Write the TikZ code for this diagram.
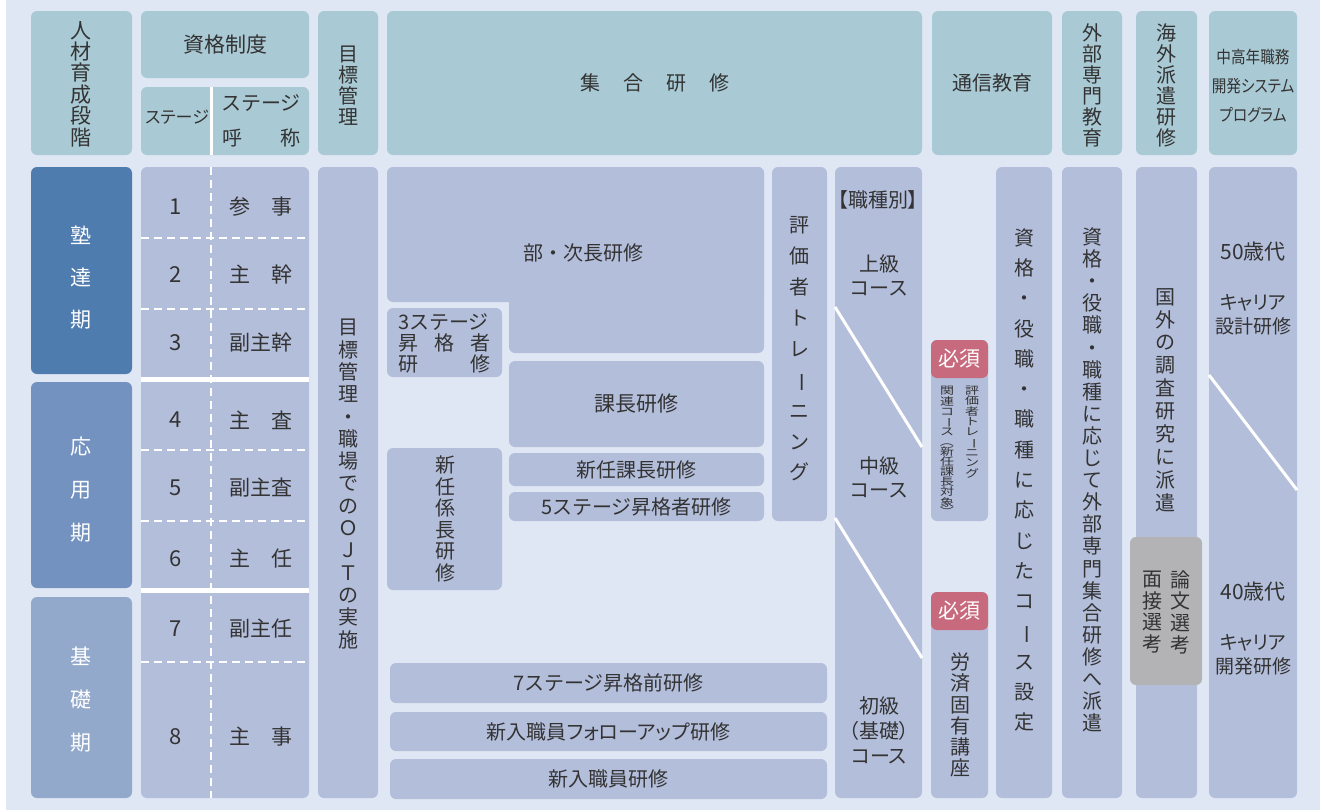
\documentclass[tikz,border=0pt]{standalone}
\usepackage{fontspec}
\usepackage{graphicx}
\setmainfont{Noto Sans CJK JP}
\newfontfamily\jpp[RawFeature=+palt]{Noto Sans CJK JP}
\definecolor{bgc}{HTML}{E0E7F4}
\definecolor{hdrc}{HTML}{A9C9D4}
\definecolor{bxc}{HTML}{B3BEDB}
\definecolor{st1}{HTML}{4F7CAF}
\definecolor{st2}{HTML}{7392BF}
\definecolor{st3}{HTML}{93A9CC}
\definecolor{redc}{HTML}{C86A7E}
\definecolor{grc}{HTML}{B3B3B5}
\definecolor{txt}{HTML}{333333}
\newcommand\fs[2]{\fontsize{#1}{#2}\selectfont}
\newcommand\vl{\rotatebox[origin=c]{-90}{ー}}
\newcommand\vp[1]{\rotatebox[origin=c]{-90}{#1}}
\newcommand\sq[1]{\scalebox{1}[0.75]{#1}}
\newcommand\hc[1]{\scalebox{0.86}[1]{#1}}
\newcommand\rb[7]{\node[#2,minimum width={#5pt-#3pt},minimum height={#6pt-#4pt}] (#1) at ({(#3+#5)/2},{(#4+#6)/2}) {#7};}
\setlength\lineskiplimit{-50pt}
\setlength\lineskip{0pt}
\begin{document}
\begin{tikzpicture}[x=1pt,y=-1pt,
  hdr/.style={fill=hdrc,rounded corners=6pt,inner sep=0pt,text=txt,align=center},
  bx/.style={fill=bxc,rounded corners=6pt,inner sep=0pt,text=txt,align=center},
  stgbox/.style={rounded corners=6pt,inner sep=0pt,text=white,align=center},
  redbox/.style={fill=redc,rounded corners=6pt,inner sep=0pt,text=white,align=center,font=\fs{21}{24}},
  graybox/.style={fill=grc,rounded corners=6pt,inner sep=0pt},
  tx/.style={text=txt,inner sep=0pt,align=center},
  wt/.style={text=white,inner sep=0pt,align=center},
  dashw/.style={white,line width=2.5pt,dash pattern=on 8pt off 5pt},
  solidw/.style={white,line width=3pt},
  sepw/.style={white,line width=5pt},
  diag/.style={white,line width=3pt}]
\useasboundingbox (0,0) rectangle (1322,811);
\fill[white] (0,0) rectangle (1322,811);
\fill[bgc] (6,0) rectangle (1320,810);

% ---------- header row ----------
\rb{h1}{hdr}{31}{11}{132}{155}{}
\node[tx,font=\fs{21}{21.4}] (h1t) at (81,84) {人\\材\\育\\成\\段\\階};
\rb{h2}{hdr}{141}{11}{309}{78}{\fs{21}{24}資格制度}
\rb{h3}{hdr}{141}{87}{309}{155}{}
\coordinate (h3a) at (211,87);
\coordinate (h3b) at (211,155);
\draw[solidw] (h3a) -- (h3b);
\node[tx,font=\fs{17}{20}\jpp] (h3s) at (177,117) {ステージ};
\node[tx,font=\fs{20}{24}] (h3n) at (261,103) {ステージ};
\node[tx,font=\fs{20}{24}] (h3c) at (261,138) {\makebox[78pt][s]{呼\hfill 称}};
\rb{h4}{hdr}{318}{11}{378}{155}{}
\node[tx,font=\fs{20}{21}] (h4t) at (348,86) {目\\標\\管\\理};
\rb{h5}{hdr}{387}{11}{922}{155}{}
\node[tx,font=\fs{20}{24}] (h5t) at (655,83) {集\hspace{23pt}合\hspace{23pt}研\hspace{23pt}修};
\rb{h6}{hdr}{932}{11}{1052}{155}{\fs{20}{24}通信教育}
\rb{h7}{hdr}{1062}{11}{1122}{155}{}
\node[tx,font=\fs{20}{21}] (h7t) at (1092,85) {外\\部\\専\\門\\教\\育};
\rb{h8}{hdr}{1136}{11}{1197}{155}{}
\node[tx,font=\fs{20}{21}] (h8t) at (1166,85) {海\\外\\派\\遣\\研\\修};
\rb{h9}{hdr}{1209}{11}{1297}{155}{}
\node[tx,font=\fs{17}{29}\jpp] (h9t) at (1253,86) {\hc{中高年職務}\\\hc{開発システム}\\\hc{プログラム}};

% ---------- stage column ----------
\rb{p1}{stgbox,fill=st1}{31}{167}{132}{374}{}
\node[wt,font=\fs{21}{42}] (p1t) at (81,278) {塾\\達\\期};
\rb{p2}{stgbox,fill=st2}{31}{382}{132}{588}{}
\node[wt,font=\fs{21}{43}] (p2t) at (81,490) {応\\用\\期};
\rb{p3}{stgbox,fill=st3}{31}{597}{132}{798}{}
\node[wt,font=\fs{21}{43}] (p3t) at (81,700) {基\\礎\\期};

\rb{stg}{bx}{141}{167}{309}{798}{}
\coordinate (vd1) at (211,167);
\coordinate (vd2) at (211,798);
\draw[dashw] (vd1) -- (vd2);
\foreach \yy in {238,309,450,521,662}{
  \draw[dashw] (141,\yy) -- (309,\yy);
}
\draw[sepw] (141,379) -- (309,379);
\draw[sepw] (141,590.5) -- (309,590.5);
\foreach \n/\yy/\nm in {1/207/参　事,2/275/主　幹,3/343/副主幹,4/420/主　査,5/488/副主査,6/559/主　任,7/629/副主任,8/737/主　事}{
  \node[tx,font=\fs{22}{24}] (num\n) at (176,\yy) {\n};
  \node[tx,font=\fs{21}{24}] (nam\n) at (261,\yy) {\nm};
}

% ---------- 目標管理 ----------
\rb{m}{bx}{318}{167}{378}{798}{}
\node[tx,font=\fs{20}{22.3}] (mt) at (348,484) {目\\標\\管\\理\\・\\職\\場\\で\\の\\Ｏ\\Ｊ\\Ｔ\\の\\実\\施};

% ---------- 集合研修 ----------
\fill[bxc,rounded corners=6pt] (387,167) rectangle (764,302);
\fill[bxc,rounded corners=6pt] (509,167) rectangle (764,353);
\node[tx,font=\fs{20}{24}] (bj) at (583,253) {部・次長研修};
\rb{s3}{bx}{387}{308}{502}{377}{}
\node[tx,font=\fs{20}{21},align=left] (s3t) at (444,343) {3ステージ\\\makebox[92pt][s]{昇\hfill 格\hfill 者}\\\makebox[92pt][s]{研\hfill 修}};
\rb{kc}{bx}{509}{361}{764}{447}{\fs{21}{24}課長研修}
\rb{sk}{bx}{509}{453}{764}{486}{\fs{20}{24}新任課長研修}
\rb{s5}{bx}{509}{492}{764}{521}{\fs{20}{24}5ステージ昇格者研修}
\rb{ht}{bx}{772}{167}{827}{521}{}
\node[tx,font=\fs{20}{30.9}] (htt) at (799,349) {評\\価\\者\\ト\\レ\\\vl\\ニ\\ン\\グ};
\rb{sh}{bx}{387}{448}{502}{590}{}
\node[tx,font=\fs{20}{21.6}] (sht) at (445,519) {新\\任\\係\\長\\研\\修};
\rb{s7}{bx}{390}{663}{827}{703}{\fs{20}{24}7ステージ昇格前研修}
\rb{fu}{bx}{390}{712}{827}{751}{\fs{20}{24}\jpp 新入職員フォローアップ研修}
\rb{sn}{bx}{390}{759}{827}{799}{\fs{20}{24}新入職員研修}

% ---------- 職種別 ----------
\rb{sy}{bx}{835}{167}{922}{798}{}
\node[tx,font=\fs{20}{24}\jpp] (syt) at (878,200) {【職種別】};
\node[tx,font=\fs{20}{24}] (sy1) at (879,275) {上級\\コース};
\node[tx,font=\fs{20}{24}] (sy2) at (879,477) {中級\\コース};
\node[tx,font=\fs{20}{25}\jpp] (sy3) at (879,730) {初級\\（基礎）\\コース};
\coordinate (d1a) at (835,307); \coordinate (d1b) at (922,447);
\coordinate (d2a) at (835,518); \coordinate (d2b) at (922,658);
\draw[diag] (d1a) -- (d1b);
\draw[diag] (d2a) -- (d2b);

% ---------- 通信教育 ----------
\rb{r1}{bx}{931}{340}{988}{521}{}
\rb{r1h}{redbox}{931}{340}{988}{378}{必須}
\node[tx,font=\fs{14}{10.3}] (r1a) at (972,432) {\sq{評}\\\sq{価}\\\sq{者}\\\sq{ト}\\\sq{レ}\\\sq{\vl}\\\sq{ニ}\\\sq{ン}\\\sq{グ}};
\node[tx,font=\fs{14}{10.1}] (r1b) at (947,452) {\sq{関}\\\sq{連}\\\sq{コ}\\\sq{\vl}\\\sq{ス}\\\sq{\vp{（}}\\\sq{新}\\\sq{任}\\\sq{課}\\\sq{長}\\\sq{対}\\\sq{象}\\\sq{\vp{）}}};
\rb{r2}{bx}{931}{592}{988}{798}{}
\rb{r2h}{redbox}{931}{592}{988}{630}{必須}
\node[tx,font=\fs{20}{21.2}] (r2t) at (960,715) {労\\済\\固\\有\\講\\座};
\rb{sk2}{bx}{996}{167}{1052}{798}{}
\node[tx,font=\fs{20}{30.3}] (sk2t) at (1024,480) {資\\格\\・\\役\\職\\・\\職\\種\\に\\応\\じ\\た\\コ\\\vl\\ス\\設\\定};

% ---------- 外部専門教育 ----------
\rb{gb}{bx}{1062}{167}{1122}{798}{}
\node[tx,font=\fs{20}{22.1}] (gbt) at (1092,480) {資\\格\\・\\役\\職\\・\\職\\種\\に\\応\\じ\\て\\外\\部\\専\\門\\集\\合\\研\\修\\へ\\派\\遣};

% ---------- 海外派遣研修 ----------
\rb{kg}{bx}{1136}{167}{1197}{798}{}
\node[tx,font=\fs{20}{22.9}] (kgt) at (1165,400) {国\\外\\の\\調\\査\\研\\究\\に\\派\\遣};
\rb{gy}{graybox}{1130}{537}{1202}{685}{}
\node[tx,font=\fs{20}{21.7}] (gy1) at (1180,612) {論\\文\\選\\考};
\node[tx,font=\fs{20}{21.7}] (gy2) at (1152,612) {面\\接\\選\\考};

% ---------- 中高年 ----------
\rb{ch}{bx}{1209}{167}{1297}{798}{}
\node[tx,font=\fs{21}{24}] (ch1) at (1253,252) {50歳代};
\node[tx,font=\fs{19}{24}\jpp] (ch2) at (1253,315) {キャリア\\設計研修};
\coordinate (d3a) at (1209,375); \coordinate (d3b) at (1297,490);
\draw[diag] (d3a) -- (d3b);
\node[tx,font=\fs{21}{24}] (ch3) at (1253,592) {40歳代};
\node[tx,font=\fs{19}{24}\jpp] (ch4) at (1253,655) {キャリア\\開発研修};
\end{tikzpicture}
\end{document}
